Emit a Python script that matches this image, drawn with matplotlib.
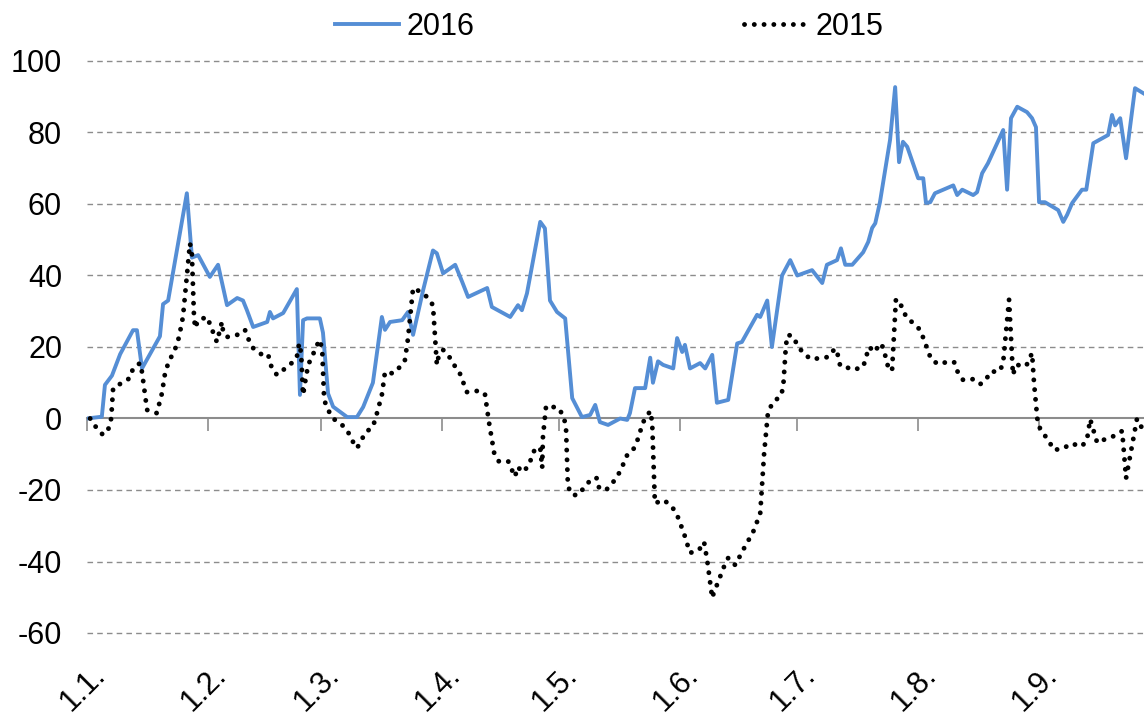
import matplotlib
matplotlib.use("Agg")
import matplotlib.pyplot as plt
import numpy as np

plt.rcParams['font.family'] = ['Liberation Sans Narrow', 'Liberation Sans', 'DejaVu Sans']

# days since 1 January
days_2016 = [0, 3.8, 4.6, 6.4, 8.5, 11.8, 12.8, 14.1, 18.7, 19.5, 20.8, 25.6, 26.9, 28.5,
             31.5, 33.6, 35.9, 38.5, 40, 41, 42.6, 46.2, 46.9, 47.7, 50.3, 53.8, 54.6,
             55.4, 56.4, 59.7, 60.5, 61.8, 63.1, 66.7, 69.2, 70.8, 73.3, 75.6, 76.4,
             77.7, 80.8, 82.3, 83.6, 86.2, 88.7, 89.7, 91.3, 94.4, 96.2, 97.7, 102.6,
             103.8, 108.5, 110.5, 111.5, 112.8, 116.2, 117.4, 118.7, 120.5, 122.6, 124.4,
             126.9, 129, 130.3, 131.5, 133.6, 136.7, 138.5, 139.2, 140.5, 143.1, 144.4,
             145.1, 146.4, 147.7, 150.3, 151.3, 152.6, 153.3, 154.6, 157.2, 158.5, 160.3,
             161.5, 164.4, 166.7, 167.9, 171.8, 172.6, 174.4, 175.6, 178.2, 180.3, 182.1,
             185.9, 188.5, 189.7, 192.3, 193.3, 194.4, 196.2, 199, 200.3, 201.3, 202.1,
             203.3, 205.9, 207.2, 208.2, 209.2, 210.3, 213.1, 214.4, 215.1, 216.2, 217.4,
             221.3, 222.1, 223.1, 224.4, 227.2, 228.2, 229.5, 231, 234.9, 235.9, 236.9,
             238.5, 241, 242.3, 243.3, 244.1, 245.6, 249, 250.3, 251.3, 252.6, 255.1,
             256.2, 258, 261.8, 262.8, 263.6, 264.9, 266.4, 268.7, 270.8]
vals_2016 = [0, 0.5, 9.4, 12, 18, 24.7, 24.7, 14, 23, 32, 33, 63, 45, 45.7,
             39.6, 43, 31.7, 33.7, 33, 30.3, 25.6, 27, 29.8, 28, 29.5, 36.2, 6.6,
             27.5, 28, 28, 24, 7, 3.3, 0.4, 0.4, 3.2, 10, 28.4, 24.8,
             27, 27.5, 29.8, 23.4, 36, 47, 46.2, 40.6, 43, 38.2, 34, 36.5,
             31.2, 28.4, 31.7, 30.3, 35, 55, 53.2, 33, 29.8, 28, 5.7,
             0.4, 1, 3.8, -1, -1.8, 0, -0.4, 1.5, 8.5, 8.5, 17,
             10, 16, 15, 14, 22.5, 18.6, 20.6, 14, 15.5, 14, 17.8,
             4.4, 5.2, 21, 21.4, 29, 28.4, 33, 20, 40, 44.3, 40,
             41.5, 37.9, 43, 44.3, 47.6, 43, 43, 46.5, 49.4, 53.3, 54.6,
             60.5, 78, 92.7, 71.7, 77.4, 76, 67.2, 67.2, 60.3, 60.5, 63,
             64.8, 65.2, 62.5, 64, 62.5, 63.3, 68.6, 71.4, 80.7, 64, 84,
             87.2, 85.7, 84, 81.5, 60.5, 60.5, 58.3, 55, 57, 60.3, 64,
             64, 77, 79.3, 84.9, 82, 84, 72.8, 92.4, 91]

days_2015 = [0.8, 2.3, 4.1, 5.6, 6.2, 6.7, 9, 11, 11.8, 13.6, 14.1, 15.4, 17.9, 19.2,
             20, 20.8, 22.8, 23.6, 24.6, 26.4, 26.9, 27.4, 27.7, 28.5, 30.8, 32.3, 33.3,
             34.6, 34.9, 35.9, 38.5, 40.5, 41.3, 42.6, 44.9, 46.4, 47.4, 48.7, 50.8, 52.8,
             53.8, 54.4, 54.9, 55.4, 55.9, 56.7, 57.9, 59, 59.7, 60.3, 60.8, 61.8, 63.1,
             65.4, 66.9, 67.9, 69.2, 70, 71.3, 73.3, 74.1, 75.6, 76.4, 78.5, 80.3, 81.5,
             82.3, 83.6, 85.4, 87.2, 88.7, 89.7, 90, 91.3, 92.6, 93.8, 95.6, 97.4, 100,
             102, 103.1, 104.4, 105.6, 108, 109.7, 110.5, 111.5, 113.1, 114.9, 116.2,
             116.7, 116.9, 117.7, 118.7, 120.5, 122.1, 122.8, 123.3, 124.4, 125.9, 127.7,
             129.5, 130.8, 131.3, 133.1, 134.9, 136.4, 137.4, 138.5, 140, 141, 142.6,
             144.4, 144.9, 145.6, 147.9, 150, 151.3, 153.1, 154.6, 156.9, 158.2, 159,
             160.3, 160.5, 162.3, 163.3, 164.4, 166.2, 168.2, 170.8, 172.6, 173.6, 174.6,
             175.9, 177.9, 178.5, 179.2, 179.7, 181, 182.1, 183.6, 185.6, 188.2, 190,
             191.8, 192.6, 193.1, 194.6, 196.4, 199, 200.5, 202.1, 203.1, 204.1, 205.4,
             206.4, 207.4, 209, 210, 211.8, 213.6, 214.6, 216.4, 218.2, 220.5, 222.3,
             223.1, 224.6, 227.2, 229, 230.5, 231.5, 234.1, 234.9, 236.4, 237.4, 238.2,
             240.8, 242.3, 242.8, 243.8, 245.1, 246.7, 247.9, 250.3, 252.3, 255.1, 256.4,
             257.2, 259, 261, 263.3, 265.4, 266.4, 269.2, 270.5]
vals_2015 = [0, -2.4, -4.6, -2.7, 0, 8.5, 10, 11.3, 14, 15.5, 13, 2.4, 1.5, 7,
             12.6, 15.4, 20, 22.8, 28.4, 49, 46, 29.5, 25.3, 27.5, 28.4, 24.2, 21.4,
             27, 24.2, 22.8, 23.4, 24.8, 22.4, 19.7, 17.8, 18, 14, 12.2, 14, 15.8,
             17.2, 21, 18.3, 6.6, 10, 15, 17.8, 20.6, 22, 19.2, 5.2, 2.4, 0,
             -1.8, -3.7, -6, -8.3, -6.9, -4, -2.3, 0.5, 6.6, 13, 12.6, 14.5, 16.3,
             22.4, 36.5, 35.5, 34, 31.7, 15, 16.8, 19.2, 17.8, 15.5, 12.6, 7.4, 7.7,
             7, -1.3, -9.7, -12, -12, -16.3, -13.5, -15, -13.5, -8.3, -8.3,
             -13.8, -5.1, 3.5, 3.2, 3.2, 1, -2.3, -19, -21.4, -21.4, -19,
             -16.7, -16.7, -19.5, -20, -17.8, -15.3, -13, -10.2, -8.8, -6.5, -1,
             2.1, -1, -23.7, -22.8, -24.7, -27, -32.3, -37.6, -36.8, -34.5, -39.6,
             -50.2, -49.4, -44.3, -41.5, -39, -41, -36.8, -31.7, -26.6, -9.8, 1.8,
             4.6, 6.3, 8.8, 20.6, 23.4, 23, 20.6, 18.3, 16.6, 16.9, 17.2,
             19.6, 17.5, 14.7, 14.4, 13.6, 14.4, 20, 18.6, 21, 20, 14.4,
             13.3, 33.4, 31.2, 28.4, 26.7, 24.8, 22, 16.6, 15.2, 15.8, 15.8,
             13.3, 10.8, 11, 9.6, 10.8, 13, 13.3, 15.8, 33.2, 12.2, 15,
             14.7, 18.3, 10, -1.8, -4, -6.5, -8.8, -8.4, -7, -7.8, -5.8,
             -0.2, -6.8, -5.8, -4.9, -3.5, -16.7, -0.1, -2.7]

month_days = [0, 31, 60, 91, 121, 152, 182, 213, 244]
month_labels = ['1.1.', '1.2.', '1.3.', '1.4.', '1.5.', '1.6.', '1.7.', '1.8.', '1.9.']
y_ticks = [-60, -40, -20, 0, 20, 40, 60, 80, 100]

fig = plt.figure(figsize=(11.44, 7.15), dpi=100)
ax = fig.add_axes([87/1144, 1 - 633/715, 1 - 87/1144, (633 - 61)/715])

ax.plot(days_2016, vals_2016, color='#558ed5', linewidth=2.8, label='2016', zorder=3)
ax.plot(days_2015, vals_2015, color='black', linewidth=3.5, linestyle=(0, (0.01, 2.0)),
        dash_capstyle='round', label='2015', zorder=4)

ax.set_xlim(0, 271)
ax.set_ylim(-60, 100)

# dashed grid, zero line drawn as axis
for y in y_ticks:
    if y != 0:
        ax.axhline(y, color='#8c8c8c', linewidth=1.0, linestyle=(0, (4, 3)), zorder=1,
                   clip_on=False)

for s in ['top', 'right', 'left']:
    ax.spines[s].set_visible(False)
ax.spines['bottom'].set_position(('data', 0))
ax.spines['bottom'].set_color('#8c8c8c')
ax.spines['bottom'].set_linewidth(1.5)

ax.set_xticks(month_days)
ax.tick_params(axis='x', direction='out', length=9, width=1.2, color='#8c8c8c',
               labelbottom=False)
ax.set_yticks(y_ticks)
ax.set_yticklabels([str(v) for v in y_ticks])
ax.tick_params(axis='y', length=0, pad=18, labelsize=22)

for d, lab in zip(month_days, month_labels):
    ax.annotate(lab, xy=(d, 0), xycoords=('data', 'axes fraction'),
                xytext=(10, -27), textcoords='offset points',
                rotation=45, rotation_mode='anchor', ha='right', va='center',
                fontsize=22)

fig.legend(loc='center', bbox_to_anchor=(609/1144, 1 - 27/715), ncol=2, frameon=False,
           fontsize=22, handlelength=2.1, handletextpad=0.25, columnspacing=8.8)

fig.savefig('out.png', dpi=100)
